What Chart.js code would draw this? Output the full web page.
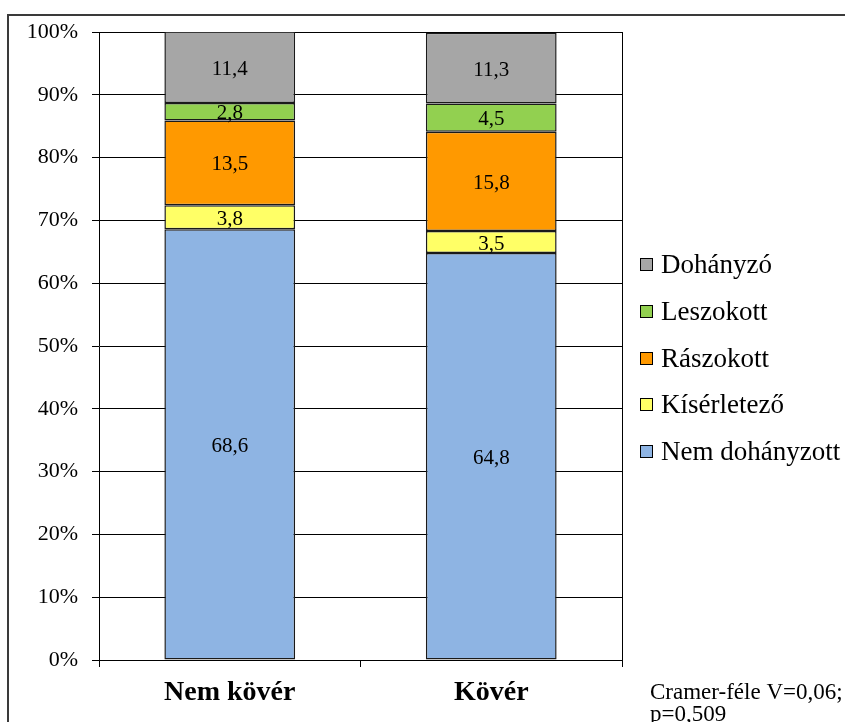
<!DOCTYPE html>
<html lang="hu">
<head>
<meta charset="utf-8">
<title>Dohányzási státusz testsúly szerint</title>
<script src="https://cdn.jsdelivr.net/npm/chart.js@4.4.1/dist/chart.umd.min.js"></script>
<style>
  html, body { margin: 0; padding: 0; background: #fff; }
  #wrap { position: relative; width: 845px; height: 722px; }
</style>
</head>
<body>
<div id="wrap"><canvas id="c" width="845" height="722"></canvas></div>
<script>
// Kategóriák és sorozatok (százalék)
const categories = ['Nem kövér', 'Kövér'];
const nemDohanyzott = [68.6, 64.8];
const kiserletezo = [3.8, 3.5];
const raszokott = [13.5, 15.8];
const leszokott = [2.8, 4.5];
const dohanyzo = [11.4, 11.3];
const yTicks = [0, 10, 20, 30, 40, 50, 60, 70, 80, 90, 100];
const noteLines = ['Cramer-féle V=0,06;', 'p=0,509'];

const SERIF = "'Liberation Serif', 'Times New Roman', serif";

const series = [
  { label: 'Nem dohányzott', data: nemDohanyzott, color: '#8EB4E3' },
  { label: 'Kísérletező', data: kiserletezo, color: '#FFFF66' },
  { label: 'Rászokott', data: raszokott, color: '#FF9900' },
  { label: 'Leszokott', data: leszokott, color: '#92D050' },
  { label: 'Dohányzó', data: dohanyzo, color: '#A6A6A6' }
];

const fmt = v => v.toFixed(1).replace('.', ',');

// Keret, adatfeliratok, jelmagyarázat és megjegyzés
const decor = {
  id: 'decor',
  beforeDraw(chart) {
    const ctx = chart.ctx;
    ctx.save();
    ctx.fillStyle = '#fff';
    ctx.fillRect(0, 0, chart.width, chart.height);
    ctx.restore();
  },
  afterDatasetsDraw(chart) {
    const ctx = chart.ctx;
    const a = chart.chartArea;
    ctx.save();
    // jobb oldali határvonal
    ctx.strokeStyle = '#000';
    ctx.lineWidth = 1;
    ctx.beginPath();
    ctx.moveTo(Math.round(a.right) + 0.5, a.top);
    ctx.lineTo(Math.round(a.right) + 0.5, a.bottom);
    ctx.stroke();
    // értékek a szegmensek közepén
    ctx.fillStyle = '#000';
    ctx.font = '21px ' + SERIF;
    ctx.textAlign = 'center';
    ctx.textBaseline = 'middle';
    chart.data.datasets.forEach((ds, i) => {
      chart.getDatasetMeta(i).data.forEach((el, j) => {
        const p = el.getProps(['x', 'y', 'base'], true);
        ctx.fillText(fmt(ds.data[j]), p.x, (p.y + p.base) / 2 + 2);
      });
    });
    ctx.restore();
  },
  afterDraw(chart) {
    const ctx = chart.ctx;
    ctx.save();
    // külső keret
    ctx.strokeStyle = '#3a3a3a';
    ctx.lineWidth = 2;
    ctx.strokeRect(8, 15, 900, 800);
    // jelmagyarázat (felülről: utolsó sorozat)
    ctx.font = '27px ' + SERIF;
    ctx.textAlign = 'left';
    ctx.textBaseline = 'middle';
    const ds = chart.data.datasets;
    for (let k = 0; k < ds.length; k++) {
      const d = ds[ds.length - 1 - k];
      const cy = 265 + k * 46.8;
      ctx.fillStyle = d.backgroundColor;
      ctx.fillRect(640.5, Math.round(cy) - 6.5, 12, 12);
      ctx.strokeStyle = '#000';
      ctx.lineWidth = 1;
      ctx.strokeRect(640.5, Math.round(cy) - 6.5, 12, 12);
      ctx.fillStyle = '#000';
      ctx.fillText(d.label, 661, cy + 1);
    }
    // megjegyzés
    ctx.font = '23px ' + SERIF;
    ctx.textBaseline = 'alphabetic';
    ctx.fillText(noteLines[0], 650, 699);
    ctx.fillText(noteLines[1], 650, 721);
    ctx.restore();
  }
};

function draw() {
  new Chart(document.getElementById('c'), {
    type: 'bar',
    data: {
      labels: categories,
      datasets: series.map(s => ({
        label: s.label,
        data: s.data,
        backgroundColor: s.color,
        borderColor: '#1a1a1a',
        borderWidth: 1.5,
        borderSkipped: false,
        barPercentage: 0.5,
        categoryPercentage: 1
      }))
    },
    options: {
      responsive: false,
      animation: false,
      events: [],
      layout: { padding: { left: 0, right: 223, top: 32, bottom: 0 } },
      plugins: {
        legend: { display: false },
        tooltip: { enabled: false },
        title: { display: false }
      },
      scales: {
        x: {
          stacked: true,
          offset: true,
          grid: {
            offset: true,
            drawOnChartArea: false,
            drawTicks: true,
            tickLength: 7,
            color: '#000',
            lineWidth: 1
          },
          border: { display: true, color: '#000', width: 1 },
          ticks: {
            color: '#000',
            padding: 9,
            font: { family: SERIF, size: 28, weight: 'bold' }
          },
          afterFit(scale) { scale.height = 62; }
        },
        y: {
          stacked: true,
          min: 0,
          max: 100,
          afterBuildTicks(scale) { scale.ticks = yTicks.map(v => ({ value: v })); },
          grid: {
            color: '#000',
            lineWidth: 1,
            drawTicks: true,
            tickLength: 7
          },
          border: { display: true, color: '#000', width: 1 },
          ticks: {
            color: '#000',
            padding: 14,
            font: { family: SERIF, size: 22 },
            callback: v => v + '%'
          },
          afterFit(scale) { scale.width = 99; }
        }
      }
    },
    plugins: [decor]
  });
}

const wanted = [
  "21px 'Liberation Serif'",
  "bold 28px 'Liberation Serif'"
];
if (document.fonts && document.fonts.load) {
  Promise.all(wanted.map(f => document.fonts.load(f))).then(draw, draw);
} else {
  draw();
}
</script>
</body>
</html>
